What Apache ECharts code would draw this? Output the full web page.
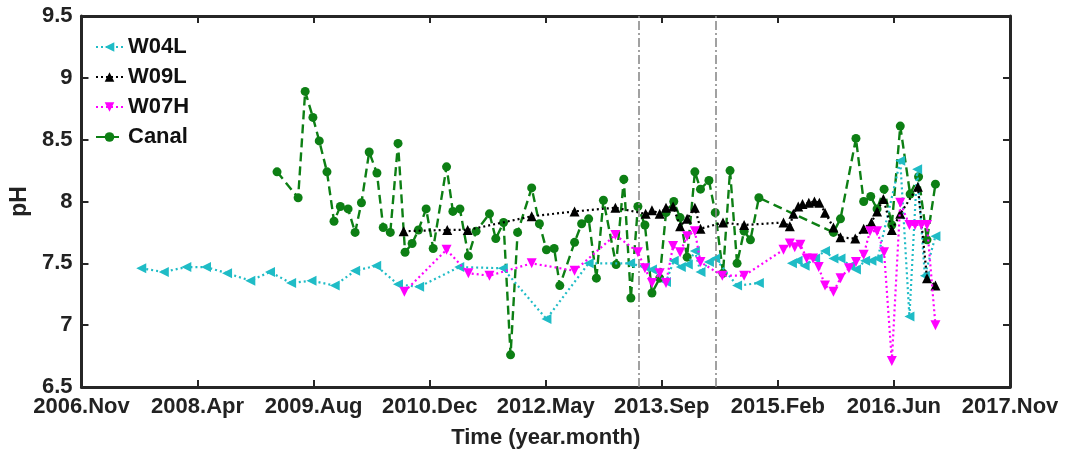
<!DOCTYPE html>
<html>
<head>
<meta charset="utf-8">
<script src="https://cdn.jsdelivr.net/npm/echarts@6/dist/echarts.min.js"></script>
<style>
  html, body { margin: 0; padding: 0; background: #fff; }
  #chart { width: 1065px; height: 459px; }
</style>
</head>
<body>
<div id="chart"></div>
<script>
// Time is counted in months since 2006.Nov; pH values per monitoring site.
const tickLabels = ['2006.Nov', '2008.Apr', '2009.Aug', '2010.Dec', '2012.May',
                    '2013.Sep', '2015.Feb', '2016.Jun', '2017.Nov'];
const tickStep = 16.5;      // months between labelled ticks
const timeSpan = 132;       // 2006.Nov .. 2017.Nov

// W04L (null = no sample, line is broken)
const w04lMonth = [8.5, 11.7, 14.9, 17.7, 20.7, 24.0, 26.8, 29.8, 32.7, 36.0,
  38.9, 41.9, 45.0, 48.0, 53.7, 59.9, 66.1, 72.1, 78.0, 80.1,
  81.1, 83.1, 84.2, 85.2, 86.2, 87.2, 88.0, 89.2, 90.1, 93.2,
  96.3, 98.0, 101.0, 101.8, 102.8, 104.3, 105.7, 106.9, 107.9, 109.3,
  110.1, 111.4, 112.3, 113.2, 116.4, 117.7, 118.8, 119.9, 121.4];
const w04lPH = [7.46, 7.43, 7.47, 7.47, 7.42, 7.36, 7.43, 7.34, 7.36, 7.32,
  7.44, 7.48, 7.33, 7.31, 7.47, 7.46, 7.05, 7.50, 7.50, 7.47,
  7.45, 7.35, 7.52, 7.47, 7.49, 7.60, 7.43, 7.51, 7.54, 7.32,
  7.34, null, 7.50, 7.52, 7.48, 7.54, 7.60, 7.54, 7.54, 7.48,
  7.45, 7.52, 7.52, 7.54, 8.33, 7.07, 8.26, 7.40, 7.72];

// W09L
const w09lMonth = [45.8, 52.0, 54.9, 64.0, 70.1, 75.9, 80.2, 81.1, 82.2, 83.1,
  84.1, 85.1, 86.1, 87.2, 88.0, 91.2, 94.2, 99.8, 100.7, 101.2,
  101.9, 102.5, 103.4, 104.2, 104.9, 105.7, 106.9, 107.9, 110.0, 111.2,
  112.3, 113.1, 114.0, 115.2, 116.4, 118.9, 120.2, 121.4];
const w09lPH = [7.76, 7.77, 7.77, 7.88, 7.92, 7.95, 7.90, 7.93, 7.90, 7.95,
  7.96, 7.80, 7.86, 7.95, 7.78, 7.83, 7.81, 7.83, 7.80, 7.90,
  7.96, 7.98, 7.99, 8.00, 7.99, 7.91, 7.79, 7.71, 7.70, 7.78,
  7.83, 7.92, 8.02, 7.77, 7.90, 8.12, 7.38, 7.32];

// W07H
const w07hMonth = [45.9, 51.9, 55.0, 58.0, 64.0, 70.1, 75.9, 79.1, 80.1, 81.1,
  82.2, 83.1, 84.1, 85.1, 86.1, 87.2, 88.0, 91.1, 94.2, 99.8,
  100.7, 101.4, 102.2, 103.1, 104.0, 104.8, 105.7, 106.9, 107.9, 109.1,
  110.1, 111.2, 112.1, 113.1, 114.1, 115.2, 116.4, 117.7, 118.5, 119.4,
  120.2, 121.4];
const w07hPH = [7.27, 7.61, 7.42, 7.40, 7.50, 7.44, 7.73, 7.59, 7.46, 7.34,
  7.42, 7.34, 7.64, 7.59, 7.72, 7.76, 7.51, 7.40, 7.40, 7.61,
  7.66, 7.63, 7.65, 7.54, 7.54, 7.47, 7.32, 7.27, 7.38, 7.46,
  7.51, 7.57, 7.76, 7.76, 7.59, 6.71, 7.99, 7.81, 7.81, 7.81,
  7.81, 7.00];

// Canal
const canalMonth = [27.8, 30.8, 31.8, 32.9, 33.8, 34.9, 35.9, 36.8, 37.9, 38.9,
  39.8, 40.9, 42.0, 42.9, 43.9, 45.0, 46.0, 47.0, 47.9, 49.0,
  50.0, 51.9, 52.8, 53.8, 55.0, 56.1, 58.0, 58.9, 60.0, 61.0,
  62.0, 64.0, 65.1, 66.1, 67.2, 68.0, 70.1, 71.1, 72.1, 73.2,
  74.2, 76.0, 77.1, 78.1, 79.1, 80.1, 81.1, 82.2, 83.1, 84.2,
  85.1, 86.1, 87.2, 88.0, 89.2, 90.1, 91.2, 92.2, 93.2, 94.2,
  95.1, 96.3, 106.9, 107.9, 110.1, 111.2, 112.2, 113.1, 114.1, 115.2,
  116.4, 117.8, 119.0, 120.2, 121.4];
const canalPH = [8.24, 8.03, 8.89, 8.68, 8.49, 8.24, 7.84, 7.96, 7.94, 7.75,
  7.99, 8.40, 8.23, 7.79, 7.75, 8.47, 7.59, 7.66, 7.77, 7.94,
  7.62, 8.28, 7.92, 7.94, 7.56, 7.76, 7.90, 7.70, 7.83, 6.76,
  7.75, 8.11, 7.82, 7.61, 7.62, 7.32, 7.67, 7.82, 7.86, 7.38,
  8.01, 7.49, 8.18, 7.22, 7.96, 7.81, 7.26, 7.38, 7.91, 8.00,
  7.87, 7.55, 8.24, 8.10, 8.17, 7.91, 7.42, 8.25, 7.50, 7.76,
  7.69, 8.03, 7.75, 7.86, 8.51, 8.00, 8.04, 7.94, 8.10, 7.81,
  8.61, 8.06, 8.20, 7.69, 8.14];

// Reference period boundaries (months since 2006.Nov)
const periodMarks = [79.2, 90.2];

const toPairs = (xs, ys) => xs.map((x, i) => [x, ys[i] === null ? '-' : ys[i]]);

const AXIS_COLOR = '#262626';
const FONT = 'Liberation Sans, Arial, sans-serif';

function frameAxis(extra) {
  return Object.assign({
    type: 'value',
    axisLine: { show: true, onZero: false, lineStyle: { color: AXIS_COLOR, width: 3 } },
    axisTick: { show: true, inside: true, length: 7, lineStyle: { color: AXIS_COLOR, width: 2 } },
    splitLine: { show: false }
  }, extra);
}

const xRange = { min: 0, max: timeSpan, interval: tickStep };
const yRange = { min: 6.5, max: 9.5, interval: 0.5 };

const chart = echarts.init(document.getElementById('chart'), null, { renderer: 'canvas' });

const option = {
  backgroundColor: '#ffffff',
  animation: false,
  textStyle: { fontFamily: FONT },
  grid: { left: 80, right: 55, top: 16, bottom: 72, containLabel: false },
  legend: {
    left: 90, top: 31, orient: 'vertical',
    itemWidth: 27, itemHeight: 12, itemGap: 8,
    textStyle: { fontFamily: FONT, fontWeight: 'bold', fontSize: 22, color: '#111', lineHeight: 22 },
    data: ['W04L', 'W09L', 'W07H', 'Canal']
  },
  xAxis: [
    frameAxis(Object.assign({
      position: 'bottom',
      name: 'Time (year.month)', nameLocation: 'middle', nameGap: 40,
      nameTextStyle: { fontFamily: FONT, fontWeight: 'bold', fontSize: 22, color: '#222' },
      axisLabel: {
        margin: 9, fontFamily: FONT, fontWeight: 'bold', fontSize: 22, color: '#222',
        showMinLabel: true, showMaxLabel: true,
        formatter: v => tickLabels[Math.round(v / tickStep)] || ''
      }
    }, xRange)),
    frameAxis(Object.assign({ position: 'top', axisLabel: { show: false } }, xRange))
  ],
  yAxis: [
    frameAxis(Object.assign({
      position: 'left',
      name: 'pH', nameLocation: 'middle', nameGap: 41,
      nameTextStyle: { fontFamily: FONT, fontWeight: 'bold', fontSize: 23, color: '#222' },
      axisLabel: { margin: 9, fontFamily: FONT, fontWeight: 'bold', fontSize: 22, color: '#222' }
    }, yRange)),
    frameAxis(Object.assign({ position: 'right', axisLabel: { show: false } }, yRange))
  ],
  series: [
    {
      name: 'W04L', type: 'line', data: toPairs(w04lMonth, w04lPH),
      symbol: 'triangle', symbolRotate: 90, symbolSize: 10,
      lineStyle: { color: '#1fbcc6', width: 2.2, type: [2, 3] },
      itemStyle: { color: '#1fbcc6' },
      connectNulls: false, z: 3,
      markLine: {
        silent: true, symbol: ['none', 'none'], label: { show: false },
        lineStyle: { color: '#8a8a8a', width: 1.6, type: [9, 3, 2, 3] },
        data: periodMarks.map(m => ({ xAxis: m }))
      }
    },
    {
      name: 'W09L', type: 'line', data: toPairs(w09lMonth, w09lPH),
      symbol: 'triangle', symbolSize: 10,
      lineStyle: { color: '#000000', width: 2.2, type: [2, 3] },
      itemStyle: { color: '#000000' }, z: 4
    },
    {
      name: 'W07H', type: 'line', data: toPairs(w07hMonth, w07hPH),
      symbol: 'triangle', symbolRotate: 180, symbolSize: 10,
      lineStyle: { color: '#ff00ff', width: 2.2, type: [2, 3] },
      itemStyle: { color: '#ff00ff' }, z: 5
    },
    {
      name: 'Canal', type: 'line', data: toPairs(canalMonth, canalPH),
      symbol: 'circle', symbolSize: 9,
      lineStyle: { color: '#0d7f14', width: 2.4, type: [9, 5] },
      itemStyle: { color: '#0d7f14' }, z: 2
    }
  ]
};

chart.setOption(option);
</script>
</body>
</html>
